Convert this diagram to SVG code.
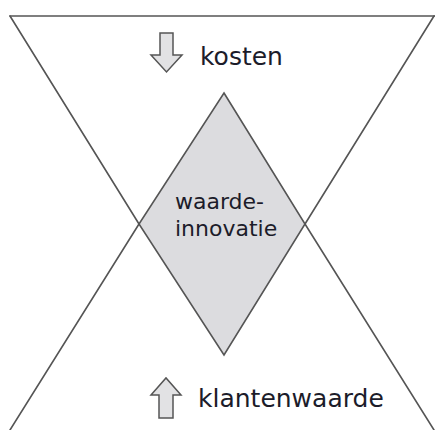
<svg xmlns="http://www.w3.org/2000/svg" width="435" height="430" viewBox="0 0 435 430">
  <style>
    .edge { fill: none; stroke: #555; stroke-width: 1.6; stroke-linecap: round; }
    .shape { fill: #dcdcdf; stroke: #555; stroke-width: 1.6; stroke-linejoin: miter; }
    .arrow { fill: #e2e2e4; stroke: #555; stroke-width: 1.5; stroke-linejoin: miter; }
    .label { font-family: "DejaVu Sans", Verdana, sans-serif; fill: #1c1c2a; }
  </style>

  <!-- hourglass outline: top bar and the four slanted sides -->
  <g id="hourglass">
    <line class="edge" x1="10" y1="16" x2="435" y2="16" stroke-width="2.2"/>
    <line class="edge" x1="10" y1="16" x2="139" y2="224"/>
    <line class="edge" x1="434" y1="16" x2="305" y2="224"/>
    <line class="edge" x1="139" y1="224" x2="10" y2="430"/>
    <line class="edge" x1="305" y1="224" x2="434" y2="430"/>
  </g>

  <!-- central diamond -->
  <g id="waarde-innovatie">
    <polygon class="shape" points="224,93 305,224 224,355 139,224"/>
    <text class="label" font-size="22" x="175" y="209">waarde-</text>
    <text class="label" font-size="22" x="175" y="236">innovatie</text>
  </g>

  <!-- costs go down -->
  <g id="kosten">
    <polygon class="arrow" points="160,33 173,33 173,55 182,55 166.5,72 151,55 160,55"/>
    <text class="label" font-size="25" x="200" y="65">kosten</text>
  </g>

  <!-- customer value goes up -->
  <g id="klantenwaarde">
    <polygon class="arrow" points="159,418 173,418 173,395 181,395 166,378 151,395 159,395"/>
    <text class="label" font-size="25" x="198" y="407">klantenwaarde</text>
  </g>
</svg>
